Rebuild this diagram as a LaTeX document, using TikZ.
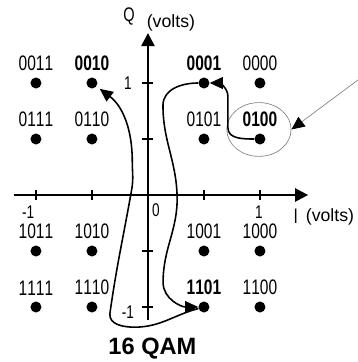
\documentclass[tikz,border=0pt]{standalone}
\usepackage{fontspec}
\setmainfont{Liberation Sans}
\newfontfamily\narrowfont[FakeStretch=0.74,Ligatures=NoCommon,Kerning=Off]{Liberation Sans}
\usetikzlibrary{
    arrows.meta,
    shapes.geometric
}

\begin{document}
\begin{tikzpicture}[x=3cm,y=3cm,
    dot/.style={circle,fill=black,inner sep=0pt,minimum size=8.4pt},
    bits/.style={font=\narrowfont\fontsize{16}{18}\selectfont},
    boldbits/.style={font=\narrowfont\bfseries\fontsize{16}{18}\selectfont},
    ticklabel/.style={font=\narrowfont\fontsize{14}{16}\selectfont,inner sep=0pt},
    unit/.style={font=\fontsize{13.5}{15}\selectfont,inner sep=0pt},
    axis/.style={line width=1.8pt,-{Triangle[length=10pt,width=10pt]}},
    tick/.style={line width=1.5pt},
    path/.style={line width=1.2pt,-{Triangle[length=10pt,width=9pt]}},
    every label/.style={inner sep=0pt},
    label distance=4.5pt]

\useasboundingbox (-1.321,-1.491) rectangle (1.875,1.741);

% Axes
\coordinate (Iend) at (1.43,0);
\coordinate (Istart) at (-1.196,0);
\coordinate (Qend) at (0,1.446);
\coordinate (Qstart) at (0,-1.116);
\draw[axis] (Istart) -- (Iend);
\draw[axis] (Qstart) -- (Qend);

% Ticks
\foreach \t in {-1,-0.5,0.5,1} {
    \draw[tick] (\t,0.047) -- (\t,-0.047);
    \draw[tick] (-0.049,\t) -- (0.049,\t);
}

% Axis labels
\node[font=\narrowfont\fontsize{15}{17}\selectfont,inner sep=0pt] (Qlab) at (-0.17,1.59) {Q};
\node[unit] (Qunit) at (0.205,1.54) {(volts)};
\node[font=\narrowfont\fontsize{16}{18}\selectfont,inner sep=0pt] (Ilab) at (1.32,-0.19) {I};
\node[unit] (Iunit) at (1.625,-0.2) {(volts)};

% Tick labels
\node[ticklabel] (q1) at (-0.18,1.0) {1};
\node[ticklabel] (qm1) at (-0.18,-1.045) {-1};
\node[ticklabel] (zero) at (0.07,-0.134) {0};
\node[ticklabel] (im1) at (-1.07,-0.15) {-1};
\node[ticklabel] (i1) at (0.99,-0.15) {1};

% Constellation points
\foreach \b/\x/\y in {0011/-1/1, 0000/1/1,
                      0111/-1/0.5, 0110/-0.5/0.5, 0101/0.5/0.5,
                      1011/-1/-0.5, 1010/-0.5/-0.5, 1001/0.5/-0.5, 1000/1/-0.5,
                      1111/-1/-1, 1110/-0.5/-1, 1100/1/-1}
    \node[dot,label={[bits]above:\b}] (d\b) at (\x,\y) {};
\node[dot,label={[boldbits]above:0010}] (d0010) at (-0.5,1) {};
\node[dot,label={[boldbits]above:0001}] (d0001) at (0.5,1) {};
\node[dot,label={[boldbits]above:0100}] (d0100) at (1,0.5) {};
\node[dot,label={[boldbits]above:1101}] (d1101) at (0.5,-1) {};

% Circled point and pointer
\node[ellipse,draw=gray,line width=0.5pt,inner sep=0pt,
      minimum width=49pt,minimum height=41pt] (ring) at (0.991,0.585) {};
\coordinate (pointer) at (1.875,1.027);
\draw[gray,line width=0.5pt,-{Triangle[length=10pt,width=9pt,color=black]}]
    (pointer) -- (ring.east);

% Symbol sequence
\draw[path] (d0100) to[out=180,in=-90] (0.714,0.6) -- (0.714,0.88)
    to[out=90,in=0] (d0001);
\draw[path] (d0001) to[out=180,in=90] (0.134,0.8) to[out=-90,in=92] (0.26,0)
    to[out=-88,in=90] (0.135,-0.78) to[out=-90,in=180] (d1101);
\draw[path,shorten >=3pt] (d1101) to[out=195,in=0] (-0.12,-1.18)
    to[out=180,in=-95] (-0.34,-1.06) to[out=82,in=-100] (-0.145,0.05)
    to[out=80,in=-90] (-0.14,0.3) to[out=90,in=-37] (d0010);

% Title
\node[font=\bfseries\fontsize{18}{20}\selectfont,inner sep=0pt] (title) at (0.04,-1.37) {16 QAM};

\end{tikzpicture}
\end{document}
